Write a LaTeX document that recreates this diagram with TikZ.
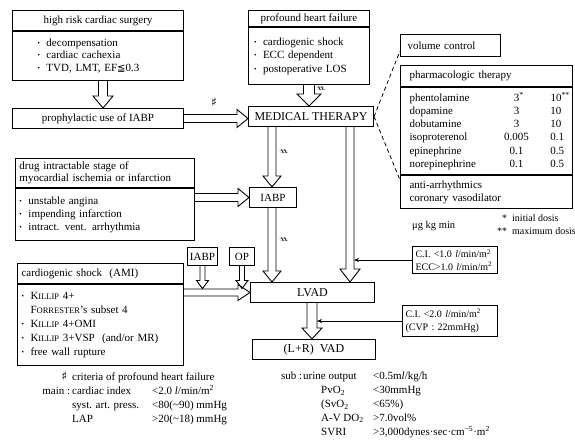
\documentclass[tikz,border=0pt]{standalone}
\usepackage{fontspec}
\setmainfont{Liberation Serif}
\newfontfamily\djv{DejaVu Sans}
\usetikzlibrary{calc,arrows.meta}
\newcommand\shp{{\djv\fontsize{12}{12}\selectfont ♯}}
\newcommand\myleq{{\djv\fontsize{10}{10}\selectfont ≦}}
\newcommand\bul{\makebox[9pt][l]{\raisebox{0.2ex}{\fontsize{7}{7}\selectfont •}}}
\newcommand\sck[2]{#1{\fontsize{8.5}{10}\selectfont #2}}
\newcommand\li{\textit{l}}
\newcommand\drow[3]{\makebox[92pt][l]{#1}\makebox[30pt][c]{#2}\hspace{19pt}\rlap{#3}}
\newcommand\hdn[5]{\draw[harrow] let \p1=(#4), \p2=(#5) in (\x1-#1,\y1) -- (\x1-#1,\y2+#3) -- (\x1-#2,\y2+#3) -- (\x1,\y2) -- (\x1+#2,\y2+#3) -- (\x1+#1,\y2+#3) -- (\x1+#1,\y1);}
\newcommand\hrt[5]{\draw[harrow] let \p1=(#4), \p2=(#5) in (\x1,\y1+#1) -- (\x2-#3,\y1+#1) -- (\x2-#3,\y1+#2) -- (\x2,\y1) -- (\x2-#3,\y1-#2) -- (\x2-#3,\y1-#1) -- (\x1,\y1-#1);}
\tikzset{
  box/.style={draw, line width=1pt, inner sep=0pt, anchor=north west, font=\fontsize{11}{13}\selectfont},
  harrow/.style={draw, line width=0.9pt, line join=miter},
  dline/.style={line width=0.8pt, dash pattern=on 4pt off 3pt},
  conn/.style={line width=0.8pt, -{Stealth[length=5pt,width=4pt]}},
  lbl/.style={inner sep=0pt},
  txt/.style={anchor=north west, inner sep=0pt, align=left, font=\fontsize{11}{13.8}\selectfont}
}
\begin{document}
\begin{tikzpicture}[x=1pt, y=-1pt]
\useasboundingbox (0,0) rectangle (575,439);

% high risk cardiac surgery
\node[box, minimum width=171pt, minimum height=20pt] (Ah) at (12,10) {high risk cardiac surgery};
\node[box, minimum width=171pt, minimum height=49pt, text width=121pt, inner xsep=25pt, align=left, font=\fontsize{11}{12.8}\selectfont] (Ab) at (Ah.south west) {\bul decompensation\\\bul cardiac cachexia\\\bul TVD, LMT, EF\myleq0.3};
\node[box, minimum width=171pt, minimum height=20pt] (B) at (12,108) {prophylactic use of IABP};

% profound heart failure
\node[box, minimum width=121pt, minimum height=16pt] (Ch) at (248,10) {profound heart failure};
\node[box, minimum width=121pt, minimum height=57pt, text width=110pt, inner xsep=5.5pt, align=left, font=\fontsize{11}{13.5}\selectfont] (Cb) at (Ch.south west) {\bul cardiogenic shock\\\bul ECC dependent\\\bul postoperative LOS};

\node[box, minimum width=125pt, minimum height=20pt, font=\fontsize{12}{14}\selectfont] (MT) at (248,106) {MEDICAL THERAPY};

% right side
\node[box, minimum width=100pt, minimum height=22pt, text width=86pt, inner xsep=7pt, align=left] (VC) at (400,34) {volume control};
\node[box, minimum width=172pt, minimum height=21pt, text width=154pt, inner xsep=9pt, align=left] (Ph) at (400,65) {pharmacologic therapy};
\node[box, minimum width=172pt, minimum height=87pt, text width=154pt, inner xsep=9pt, align=left, font=\fontsize{11}{13.2}\selectfont] (Pt) at (Ph.south west) {\drow{phentolamine}{3\rlap{\textsuperscript{*}}}{10\textsuperscript{**}}\\\drow{dopamine}{3}{10}\\\drow{dobutamine}{3}{10}\\\drow{isoproterenol}{0.005}{0.1}\\\drow{epinephrine}{0.1}{0.5}\\\drow{norepinephrine}{0.1}{0.5}};
\node[box, minimum width=172pt, minimum height=33pt, text width=154pt, inner xsep=9pt, align=left, font=\fontsize{11}{13}\selectfont] (Pf) at (Pt.south west) {anti-arrhythmics\\coronary vasodilator};

\node[lbl, anchor=west, font=\fontsize{10.5}{12}\selectfont] (mu) at (412,226) {μg kg min};
\node[lbl, anchor=west, align=left, font=\fontsize{10}{13}\selectfont] (dos) at (497,224.5) {\makebox[10pt][r]{*}\hspace{5pt}initial dosis\\\makebox[10pt][r]{**}\hspace{5pt}maximum dosis};

\node[box, minimum width=85pt, minimum height=27pt, text width=79pt, inner xsep=3pt, align=left, font=\fontsize{10}{12.5}\selectfont] (CI1) at (412,246) {C.I. <1.0 \li/min/m\textsuperscript{2}\\ECC>1.0 \li/min/m\textsuperscript{2}};
\node[box, minimum width=95pt, minimum height=31pt, text width=89pt, inner xsep=3pt, align=left, font=\fontsize{10}{13}\selectfont] (CI2) at (402,305) {C.I. <2.0 \li/min/m\textsuperscript{2}\\(CVP : 22mmHg)};

% drug intractable
\node[box, minimum width=179pt, minimum height=29pt, text width=171pt, inner xsep=4pt, align=left, font=\fontsize{11}{12.5}\selectfont] (Dh) at (15,158) {drug intractable stage of\\myocardial ischemia or infarction};
\node[box, minimum width=179pt, minimum height=52pt, text width=171pt, inner xsep=4pt, align=left, font=\fontsize{11}{13}\selectfont] (Db) at (Dh.south west) {\bul unstable angina\\\bul impending infarction\\\bul intract. vent. arrhythmia};

\node[box, minimum width=47pt, minimum height=20pt] (IM) at (249,187) {IABP};
\node[box, minimum width=30pt, minimum height=18pt] (IS) at (187,247) {IABP};
\node[box, minimum width=25pt, minimum height=18pt] (OP) at (229,247) {OP};

% cardiogenic shock
\node[box, minimum width=166pt, minimum height=20pt, text width=158pt, inner xsep=4pt, align=left] (Kh) at (17,263) {cardiogenic shock\ \ (AMI)};
\node[box, minimum width=166pt, minimum height=81pt, text width=158pt, inner xsep=4pt, align=left, font=\fontsize{11}{14}\selectfont] (Kb) at (Kh.south west) {\bul\sck{K}{ILLIP} 4+\\\hspace*{9pt}\sck{F}{ORRESTER}'s subset 4\\\bul\sck{K}{ILLIP} 4+OMI\\\bul\sck{K}{ILLIP} 3+VSP\ \ (and/or MR)\\\bul free wall rupture};

\node[box, minimum width=124pt, minimum height=20pt, font=\fontsize{12}{14}\selectfont] (LV) at (250,282) {LVAD};
\node[box, minimum width=123pt, minimum height=20pt, font=\fontsize{12}{14}\selectfont] (LR) at (252,339) {(L+R)\ \ VAD};

% helper coordinates
\coordinate (xa) at (103,0);
\coordinate (xc) at (309,0);
\coordinate (xl) at (272,0);
\coordinate (xr) at (350,0);
\coordinate (xlr) at (312,0);
\coordinate (yk) at (0,288.5);
\coordinate (rs) at (354,0);
\coordinate (ls) at (317,0);

% hollow arrows
\hdn{4.5pt}{10pt}{12pt}{Ab.south -| xa}{B.north -| xa}
\hrt{4pt}{9pt}{11pt}{B.east}{MT.west}
\hdn{5.5pt}{12pt}{12pt}{Cb.south -| xc}{MT.north -| xc}
\hdn{4pt}{9pt}{11pt}{MT.south -| xl}{IM.north -| xl}
\hdn{4pt}{9pt}{11pt}{IM.south -| xl}{LV.north -| xl}
\hdn{4pt}{10pt}{13pt}{MT.south -| xr}{LV.north -| xr}
\hrt{4pt}{9pt}{11pt}{Db.east |- IM.west}{IM.west}
\hrt{3.5pt}{8pt}{12pt}{Kb.east |- LV.west}{LV.west}
\hdn{2.5pt}{6pt}{8pt}{IS.south}{IS.south |- yk}
\hdn{2.5pt}{6pt}{8pt}{OP.south}{OP.south |- yk}
\hdn{5pt}{10pt}{11pt}{LV.south -| xlr}{LR.north -| xlr}

% thin connectors
\draw[conn] (CI1.west) -- (CI1.west -| rs);
\draw[conn] (CI2.west) -- (CI2.west -| ls);

% dashed
\draw[dline] (MT.east) -- ($(VC.south west)+(0,-6)$);
\draw[dline] (MT.east) -- ($(Pf.north west)+(0,5)$);

% sharp labels
\node[lbl] (s1) at (214,102) {\shp};
\node[lbl, rotate=90] (s2) at (321,89) {\shp};
\node[lbl, rotate=90] (s3) at (284,152) {\shp};
\node[lbl, rotate=90] (s4) at (284,240) {\shp};

% bottom legends
\node[txt] (crit) at (30,372) {\makebox[40pt][r]{\shp\hspace{3pt}}\hspace{2pt}criteria of profound heart failure\\
\makebox[40pt][r]{main :}\hspace{2pt}\makebox[80pt][l]{cardiac index}<2.0 \li/min/m\textsuperscript{2}\\
\hspace*{42pt}\makebox[80pt][l]{syst. art. press.}<80(\textasciitilde90) mmHg\\
\hspace*{42pt}\makebox[80pt][l]{LAP}>20(\textasciitilde18) mmHg};
\node[txt] (sub) at (281,372) {\makebox[22pt][l]{sub :}\makebox[70pt][l]{urine output}<0.5m\li/kg/h\\
\hspace*{40pt}\makebox[52pt][l]{PvO\textsubscript{2}}<30mmHg\\
\hspace*{40pt}\makebox[52pt][l]{(SvO\textsubscript{2}}<65\%)\\
\hspace*{40pt}\makebox[52pt][l]{A-V DO\textsubscript{2}}>7.0vol\%\\
\hspace*{40pt}\makebox[52pt][l]{SVRI}>3,000dynes·sec·cm\textsuperscript{−5}·m\textsuperscript{2}};
\end{tikzpicture}
\end{document}
